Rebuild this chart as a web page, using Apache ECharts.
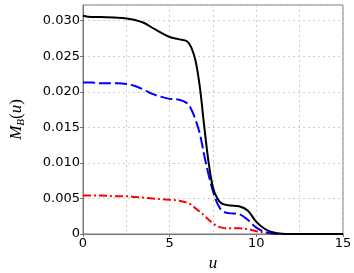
<!DOCTYPE html>
<html><head><meta charset="utf-8">
<script src="https://cdn.jsdelivr.net/npm/echarts@6/dist/echarts.min.js"></script>
<style>html,body{margin:0;padding:0;background:#fff}#c{width:354px;height:273px}</style>
</head><body><div id="c"></div>
<script>
var uValues = [0, 0.5, 1, 2, 2.5, 3, 3.5, 4, 4.5, 5, 5.5, 6, 6.25, 6.5, 6.75, 7, 7.25, 7.5, 7.75, 8, 8.25, 8.5, 9, 9.5, 10, 10.5, 11, 11.5, 12, 13, 14, 15];
var blackValues = [0.0307, 0.0305, 0.0305, 0.0304, 0.0303, 0.0301, 0.0297, 0.0290, 0.0283, 0.0277, 0.0274, 0.0271, 0.0262, 0.0243, 0.0205, 0.0150, 0.0100, 0.0065, 0.0050, 0.0043, 0.0041, 0.0040, 0.0039, 0.0033, 0.0017, 0.0007, 0.0002, 0.00003, 0, 0, 0, 0];
var blueValues = [0.0213, 0.0213, 0.0212, 0.0212, 0.0211, 0.0208, 0.0203, 0.0197, 0.0193, 0.0190, 0.0189, 0.0184, 0.0175, 0.0160, 0.0140, 0.0110, 0.0083, 0.0060, 0.0043, 0.0033, 0.0030, 0.0029, 0.0028, 0.0020, 0.0009, 0.0003, 0.00005, 0, 0, 0, 0, 0];
var redValues = [0.0054, 0.0054, 0.0054, 0.0053, 0.0053, 0.0052, 0.0051, 0.0050, 0.0049, 0.0048, 0.0047, 0.0044, 0.0041, 0.0036, 0.0031, 0.0026, 0.0020, 0.0015, 0.0011, 0.0009, 0.0008, 0.0008, 0.0008, 0.0007, 0.0004, 0.0002, 0.00005, 0, 0, 0, 0, 0];
var yTickLabels = ['0', '0.005', '0.010', '0.015', '0.020', '0.025', '0.030'];
var xTickLabels = ['0', '5', '10', '15'];

function pairs(v) { return uValues.map(function (u, i) { return [u, v[i]]; }); }
var chart = echarts.init(document.getElementById('c'));
var labelFont = { fontFamily: 'DejaVu Sans', fontSize: 13, color: '#000' };
chart.setOption({
  animation: false,
  grid: { left: 83, right: 11, top: 5, bottom: 39, show: true, borderColor: '#777', borderWidth: 1, containLabel: false, outerBoundsMode: 'none' },
  xAxis: {
    type: 'value', min: 0, max: 15, interval: 5,
    name: 'u', nameLocation: 'middle', nameGap: 21,
    nameTextStyle: { fontFamily: 'Liberation Serif', fontStyle: 'italic', fontSize: 17, color: '#000' },
    axisLine: { show: true, lineStyle: { color: '#777' } },
    axisTick: { show: true, length: 3, lineStyle: { color: '#777' } },
    axisLabel: Object.assign({ margin: 3, formatter: function (v) { var i = Math.round(v / 5); return (Math.abs(v - i * 5) < 1e-6) ? xTickLabels[i] : ''; } }, labelFont),
    splitLine: { show: true, lineStyle: { color: '#ccc', type: [2, 3] } },
    minorTick: { show: false, splitNumber: 2 },
    minorSplitLine: { show: true, lineStyle: { color: '#ccc', type: [2, 3] } }
  },
  yAxis: {
    type: 'value', min: 0, max: 0.0322, interval: 0.005,
    name: '{m|M}{s|B}{p|(}{m|u}{p|)}', nameLocation: 'middle', nameGap: 56,
    nameTextStyle: { rich: {
      m: { fontFamily: 'Liberation Serif', fontStyle: 'italic', fontSize: 17, color: '#000' },
      s: { fontFamily: 'Liberation Serif', fontStyle: 'italic', fontSize: 11, color: '#000', verticalAlign: 'bottom', padding: [9, 0, 0, 0] },
      p: { fontFamily: 'Liberation Serif', fontSize: 17, color: '#000' }
    } },
    axisLine: { show: true, lineStyle: { color: '#777' } },
    axisTick: { show: true, length: 3, lineStyle: { color: '#777' } },
    axisLabel: Object.assign({ margin: 3, showMaxLabel: false, formatter: function (v) { var i = Math.round(v / 0.005); return (Math.abs(v - i * 0.005) < 1e-9) ? yTickLabels[i] : ''; } }, labelFont),
    splitLine: { show: true, lineStyle: { color: '#ccc', type: [2, 3] } }
  },
  series: [
    { type: 'line', data: pairs(redValues), smooth: 0.35, showSymbol: false, lineStyle: { color: '#ff0000', width: 2, type: [8, 3, 2, 3] } },
    { type: 'line', data: pairs(blueValues), smooth: 0.35, showSymbol: false, lineStyle: { color: '#0000ff', width: 2, type: [12, 4] } },
    { type: 'line', data: pairs(blackValues), smooth: 0.35, showSymbol: false, lineStyle: { color: '#000', width: 2 } }
  ]
});
</script></body></html>
